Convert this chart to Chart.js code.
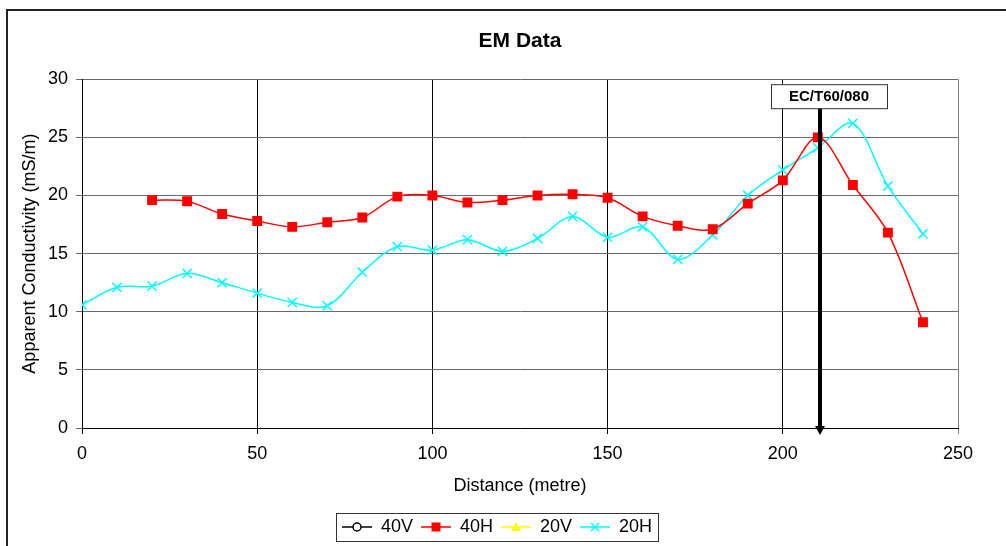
<!DOCTYPE html>
<html>
<head>
<meta charset="utf-8">
<script src="https://cdn.jsdelivr.net/npm/chart.js@4"></script>
<style>
  html, body { margin: 0; padding: 0; background: #fff; overflow: hidden; }
  #wrap { position: relative; width: 1006px; height: 546px; }
  #frame { position: absolute; left: 6px; top: 9px; width: 1100px; height: 600px; border: 2px solid #222; pointer-events: none; }
</style>
</head>
<body>
<div id="wrap">
  <canvas id="grafico" width="1006" height="546"></canvas>
  <div id="frame"></div>
</div>
<script>
// Dados
var distancias = [0, 10, 20, 30, 40, 50, 60, 70, 80, 90, 100, 110, 120, 130, 140, 150, 160, 170, 180, 190, 200, 210, 220, 230, 240];
var valores40V = [];
var valores40H = [null, null, 19.6, 19.5, 18.4, 17.8, 17.3, 17.7, 18.1, 19.9, 20.0, 19.4, 19.6, 20.0, 20.1, 19.8, 18.2, 17.4, 17.1, 19.3, 21.3, 25.0, 20.9, 16.8, 9.1];
var valores20V = [];
var valores20H = [10.6, 12.1, 12.2, 13.3, 12.5, 11.6, 10.8, 10.5, 13.4, 15.6, 15.3, 16.2, 15.2, 16.3, 18.2, 16.4, 17.3, 14.5, 16.6, 20.0, 22.2, 24.1, 26.2, 20.8, 16.7];
var ticksX = [0, 50, 100, 150, 200, 250];
var ticksY = [0, 5, 10, 15, 20, 25, 30];
var marcoDistancia = 210.5;
var marcoTexto = 'EC/T60/080';

var fonte = "'Liberation Sans', Arial, sans-serif";

// Junta distâncias e valores em pontos {x, y}
function pontos(valores) {
    var lista = [];
    for (var i = 0; i < valores.length; i++) {
        if (valores[i] !== null && valores[i] !== undefined) {
            lista.push({ x: distancias[i], y: valores[i] });
        }
    }
    return lista;
}

// Ícone da legenda: linha com o marcador no meio
function iconeLegenda(cor, estilo, preenchimento) {
    var c = document.createElement('canvas');
    c.width = 30; c.height = 14;
    var g = c.getContext('2d');
    g.strokeStyle = cor;
    g.lineWidth = 1.5;
    g.beginPath(); g.moveTo(0, 7); g.lineTo(30, 7); g.stroke();
    g.fillStyle = preenchimento;
    if (estilo === 'circle') {
        g.beginPath(); g.arc(15, 7, 4, 0, Math.PI * 2); g.fill(); g.stroke();
    } else if (estilo === 'rect') {
        g.fillRect(10.5, 2.5, 9, 9);
    } else if (estilo === 'triangle') {
        g.beginPath(); g.moveTo(15, 2); g.lineTo(20, 11); g.lineTo(10, 11); g.closePath(); g.fill();
    } else if (estilo === 'cross') {
        g.beginPath(); g.moveTo(11, 3); g.lineTo(19, 11); g.moveTo(19, 3); g.lineTo(11, 11); g.stroke();
    }
    return c;
}

var icones = [
    iconeLegenda('#000000', 'circle', '#ffffff'),
    iconeLegenda('#ff0000', 'rect', '#ff0000'),
    iconeLegenda('#ffff00', 'triangle', '#ffff00'),
    iconeLegenda('#00ffff', 'cross', '#00ffff')
];

// Seta vertical com a etiqueta
var pluginMarco = {
    id: 'marco',
    afterDatasetsDraw: function (chart) {
        var ctx = chart.ctx;
        var xs = chart.scales.x, ys = chart.scales.y;
        var px = Math.round(xs.getPixelForValue(marcoDistancia));
        var topo = chart.chartArea.top + 5;
        ctx.save();
        ctx.font = 'bold 15px ' + fonte;
        var larg = ctx.measureText(marcoTexto).width + 36;
        var alt = 24;
        var cx = px + 9;
        var base = ys.getPixelForValue(0) + 7;
        // haste
        ctx.strokeStyle = '#000';
        ctx.lineWidth = 4;
        ctx.beginPath();
        ctx.moveTo(px, topo + alt);
        ctx.lineTo(px, base - 7);
        ctx.stroke();
        // ponta
        ctx.fillStyle = '#000';
        ctx.beginPath();
        ctx.moveTo(px - 5, base - 9);
        ctx.lineTo(px + 5, base - 9);
        ctx.lineTo(px, base);
        ctx.closePath();
        ctx.fill();
        // caixa
        ctx.fillStyle = '#fff';
        ctx.fillRect(cx - larg / 2, topo, larg, alt);
        ctx.strokeStyle = '#333';
        ctx.lineWidth = 1;
        ctx.strokeRect(Math.round(cx - larg / 2) + 0.5, topo + 0.5, Math.round(larg), alt);
        ctx.fillStyle = '#000';
        ctx.textAlign = 'center';
        ctx.textBaseline = 'middle';
        ctx.fillText(marcoTexto, cx, topo + alt / 2 + 1);
        ctx.restore();
    }
};

// Moldura da legenda
var pluginMolduraLegenda = {
    id: 'molduraLegenda',
    afterDraw: function (chart) {
        var caixas = chart.legend.legendHitBoxes;
        if (!caixas || !caixas.length) return;
        var l = Infinity, r = -Infinity, t = Infinity, b = -Infinity;
        caixas.forEach(function (c) {
            l = Math.min(l, c.left); r = Math.max(r, c.left + c.width);
            t = Math.min(t, c.top); b = Math.max(b, c.top + c.height);
        });
        var ctx = chart.ctx;
        ctx.save();
        ctx.strokeStyle = '#333';
        ctx.lineWidth = 1;
        ctx.strokeRect(Math.round(l - 6) + 0.5, Math.round(t - 5) + 0.5, Math.round(r - l + 12), Math.round(b - t + 10));
        ctx.restore();
    }
};

function criarGrafico() {
    var ctx = document.getElementById('grafico').getContext('2d');

    new Chart(ctx, {
        type: 'line',
        data: {
            datasets: [{
                label: '40V',
                data: pontos(valores40V),
                borderColor: '#000000',
                backgroundColor: '#ffffff',
                pointStyle: 'circle'
            }, {
                label: '40H',
                data: pontos(valores40H),
                borderColor: '#ff0000',
                backgroundColor: '#ff0000',
                borderWidth: 1.5,
                pointStyle: 'rect',
                pointRadius: 7,
                pointBorderWidth: 0,
                tension: 0.33
            }, {
                label: '20V',
                data: pontos(valores20V),
                borderColor: '#ffff00',
                backgroundColor: '#ffff00',
                pointStyle: 'triangle'
            }, {
                label: '20H',
                data: pontos(valores20H),
                borderColor: '#00ffff',
                backgroundColor: '#00ffff',
                borderWidth: 1.5,
                pointStyle: 'crossRot',
                pointRadius: 6.5,
                pointBorderWidth: 1.5,
                tension: 0.33
            }]
        },
        options: {
            responsive: false,
            animation: false,
            layout: { padding: { left: 0, right: 12, top: 10, bottom: 0 } },
            scales: {
                x: {
                    type: 'linear',
                    min: ticksX[0],
                    max: ticksX[ticksX.length - 1],
                    afterBuildTicks: function (s) { s.ticks = ticksX.map(function (v) { return { value: v }; }); },
                    afterFit: function (s) { s.height = 82; },
                    grid: {
                        color: function (c) { return c.tick && c.tick.value === 250 ? '#808080' : '#000000'; },
                        tickLength: 6
                    },
                    border: { color: '#000000' },
                    ticks: { color: '#000', padding: 9, font: { family: fonte, size: 18 } },
                    title: {
                        display: true, text: 'Distance (metre)', color: '#000',
                        font: { family: fonte, size: 18 }, padding: { top: 0, bottom: 13 }
                    }
                },
                y: {
                    min: ticksY[0],
                    max: ticksY[ticksY.length - 1],
                    afterBuildTicks: function (s) { s.ticks = ticksY.map(function (v) { return { value: v }; }); },
                    afterFit: function (s) { s.width = 82; },
                    grid: { color: '#6a6a6a', tickLength: 6 },
                    border: { color: '#000000' },
                    ticks: { color: '#000', padding: 8, font: { family: fonte, size: 18 } },
                    title: {
                        display: true, text: 'Apparent Conductivity (mS/m)', color: '#000',
                        font: { family: fonte, size: 18 }, padding: { top: 19, bottom: 0 }
                    }
                },
                // margem à direita da área do gráfico
                margemDireita: {
                    position: 'right',
                    display: true,
                    afterFit: function (s) { s.width = 36; },
                    grid: { display: false },
                    border: { display: false },
                    ticks: { display: false }
                }
            },
            plugins: {
                title: {
                    display: true, text: 'EM Data', color: '#000',
                    fullSize: false,
                    font: { family: fonte, size: 21, weight: 'bold' },
                    padding: { top: 19, bottom: 25 }
                },
                legend: {
                    position: 'bottom',
                    labels: {
                        color: '#000',
                        font: { family: fonte, size: 18 },
                        usePointStyle: true,
                        pointStyleWidth: 30,
                        boxHeight: 14,
                        padding: 8,
                        generateLabels: function (chart) {
                            return chart.data.datasets.map(function (d, i) {
                                return { text: d.label, pointStyle: icones[i], datasetIndex: i, hidden: false, fontColor: '#000', lineWidth: 0, strokeStyle: 'rgba(0,0,0,0)', fillStyle: 'rgba(0,0,0,0)' };
                            });
                        }
                    }
                },
                tooltip: { enabled: false }
            }
        },
        plugins: [pluginMarco, pluginMolduraLegenda]
    });
}

criarGrafico();
</script>
</body>
</html>
